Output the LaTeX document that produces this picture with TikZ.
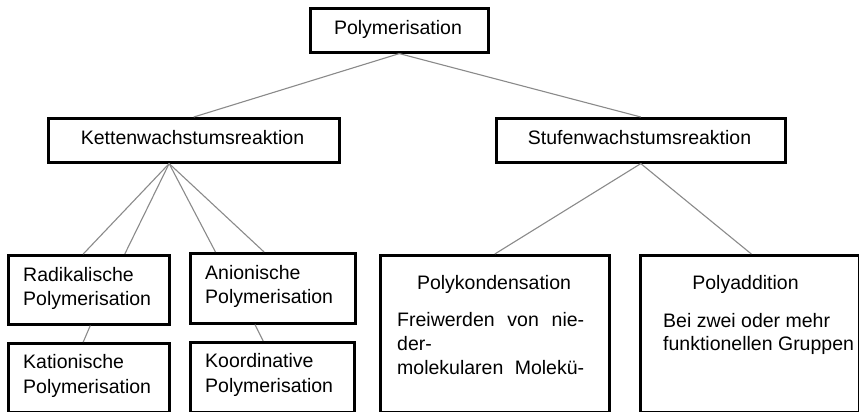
\documentclass[tikz,border=0pt]{standalone}
\usepackage{fontspec}
\setmainfont{Liberation Sans}
\usetikzlibrary{calc}
\definecolor{conngray}{HTML}{8A8A8A}
\begin{document}
\begin{tikzpicture}[x=1pt,y=-1pt,
  box/.style={draw=black,line width=2.6pt,inner sep=0pt,anchor=north west},
  conn/.style={draw=conngray,line width=1.1pt},
  txt/.style={inner sep=0pt,font=\fontsize{19.5}{24.5}\selectfont}]
\useasboundingbox (0,0) rectangle (859,412);
% boxes
\node[box,minimum width=178pt,minimum height=44pt] (poly) at (309,7) {};
\node[box,minimum width=291pt,minimum height=44pt] (ket) at (47,117) {};
\node[box,minimum width=289pt,minimum height=44pt] (stu) at (495,117) {};
\node[box,minimum width=161pt,minimum height=69pt] (rad) at (7,254) {};
\node[box,minimum width=165pt,minimum height=70pt] (ani) at (189,252) {};
\node[box,minimum width=161pt,minimum height=69pt] (kat) at (7,342) {};
\node[box,minimum width=164pt,minimum height=70pt] (koo) at (189,341) {};
\node[box,minimum width=229pt,minimum height=157pt] (pk) at (379,254) {};
\node[box,minimum width=219pt,minimum height=157pt] (pa) at (639,254) {};
% texts
\node[txt,anchor=base] (tpoly) at (398,35) {Polymerisation};
\node[txt,anchor=base] (tket) at (192.5,144) {Kettenwachstumsreaktion};
\node[txt,anchor=base] (tstu) at (639.5,144) {Stufenwachstumsreaktion};
\node[txt,anchor=base west] (trad1) at (23,281) {Radikalische};
\node[txt,anchor=base west] (trad2) at (23,305) {Polymerisation};
\node[txt,anchor=base west] (tani1) at (205,279) {Anionische};
\node[txt,anchor=base west] (tani2) at (205,303) {Polymerisation};
\node[txt,anchor=base west] (tkat1) at (23,368) {Kationische};
\node[txt,anchor=base west] (tkat2) at (23,393) {Polymerisation};
\node[txt,anchor=base west] (tkoo1) at (205,367) {Koordinative};
\node[txt,anchor=base west] (tkoo2) at (205,392) {Polymerisation};
\node[txt,anchor=base] (tpk) at (494,289) {Polykondensation};
\node[txt,anchor=base west] (tpk1) at (397,326) {\makebox[187pt][s]{Freiwerden\hfill von\hfill nie-}};
\node[txt,anchor=base west] (tpk2) at (397,350) {der-};
\node[txt,anchor=base west] (tpk3) at (397,374) {\makebox[187pt][s]{molekularen\hfill Molekü-}};
\node[txt,anchor=base] (tpa) at (745.5,289) {Polyaddition};
\node[txt,anchor=base west] (tpa1) at (663,327) {Bei zwei oder mehr};
\node[txt,anchor=base west] (tpa2) at (663,350) {funktionellen Gruppen};
% connectors
\draw[conn] (poly.south) -- (ket.north);
\draw[conn] (poly.south) -- (stu.north);
\coordinate (fan) at ($(ket.south west)!0.416!(ket.south east)$);
\draw[conn] (fan) -- ($(rad.north west)!0.466!(rad.north east)$);
\draw[conn] (fan) -- ($(rad.north west)!0.72!(rad.north east)$);
\draw[conn] (fan) -- ($(ani.north west)!0.158!(ani.north east)$);
\draw[conn] (fan) -- ($(ani.north west)!0.448!(ani.north east)$);
\draw[conn] ($(rad.south west)!0.509!(rad.south east)$) -- ($(kat.north west)!0.466!(kat.north east)$);
\draw[conn] ($(ani.south west)!0.394!(ani.south east)$) -- ($(koo.north west)!0.445!(koo.north east)$);
\draw[conn] (stu.south) -- (pk.north);
\draw[conn] (stu.south) -- ($(pa.north west)!0.507!(pa.north east)$);
\end{tikzpicture}
\end{document}
